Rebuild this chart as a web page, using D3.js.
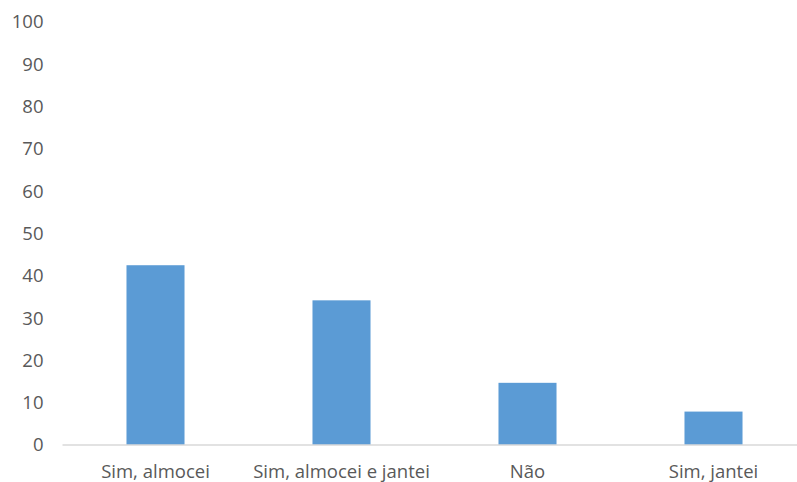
<!DOCTYPE html>
<html><head><meta charset="utf-8">
<script src="https://cdn.jsdelivr.net/npm/d3@7"></script>
<style>body{margin:0;background:#fff;} svg{display:block;}</style>
</head><body>
<svg id="c" width="797" height="482"></svg>
<script>
const categories = ["Sim, almocei", "Sim, almocei e jantei", "Não", "Sim, jantei"];
const values = [42.5, 34.2, 14.7, 7.9];
const yTicks = [0, 10, 20, 30, 40, 50, 60, 70, 80, 90, 100];

const svg = d3.select("#c");
const m = {left: 62.5, right: -9.5, top: 22, bottom: 37};
const W = 797, H = 482;
const x = d3.scaleBand().domain(categories).range([m.left, W - m.right]).paddingInner(0.688).paddingOuter(0.344);
const y = d3.scaleLinear().domain([0, 100]).range([H - m.bottom, m.top]);
const font = "'Open Sans', sans-serif";

svg.selectAll("rect.bar").data(values).join("rect")
  .attr("class", "bar")
  .attr("x", (d, i) => x(categories[i]))
  .attr("width", x.bandwidth())
  .attr("y", d => y(d))
  .attr("height", d => y(0) - y(d))
  .attr("fill", "#5B9BD5");

const yAxis = svg.append("g").attr("transform", `translate(${m.left},0)`)
  .call(d3.axisLeft(y).tickValues(yTicks).tickSize(0).tickPadding(19));
yAxis.select(".domain").remove();
yAxis.selectAll("text").attr("font-family", font).attr("font-size", 18.5).attr("fill", "#595959");

const xAxis = svg.append("g").attr("transform", `translate(0,${y(0)})`)
  .call(d3.axisBottom(x).tickSize(0).tickPadding(20));
xAxis.select(".domain").attr("stroke", "#D9D9D9").attr("stroke-width", 1.5)
  .attr("d", `M${m.left},0H${W}`);
xAxis.selectAll("text").attr("font-family", font).attr("font-size", 18.5).attr("fill", "#595959");
</script>
</body></html>
